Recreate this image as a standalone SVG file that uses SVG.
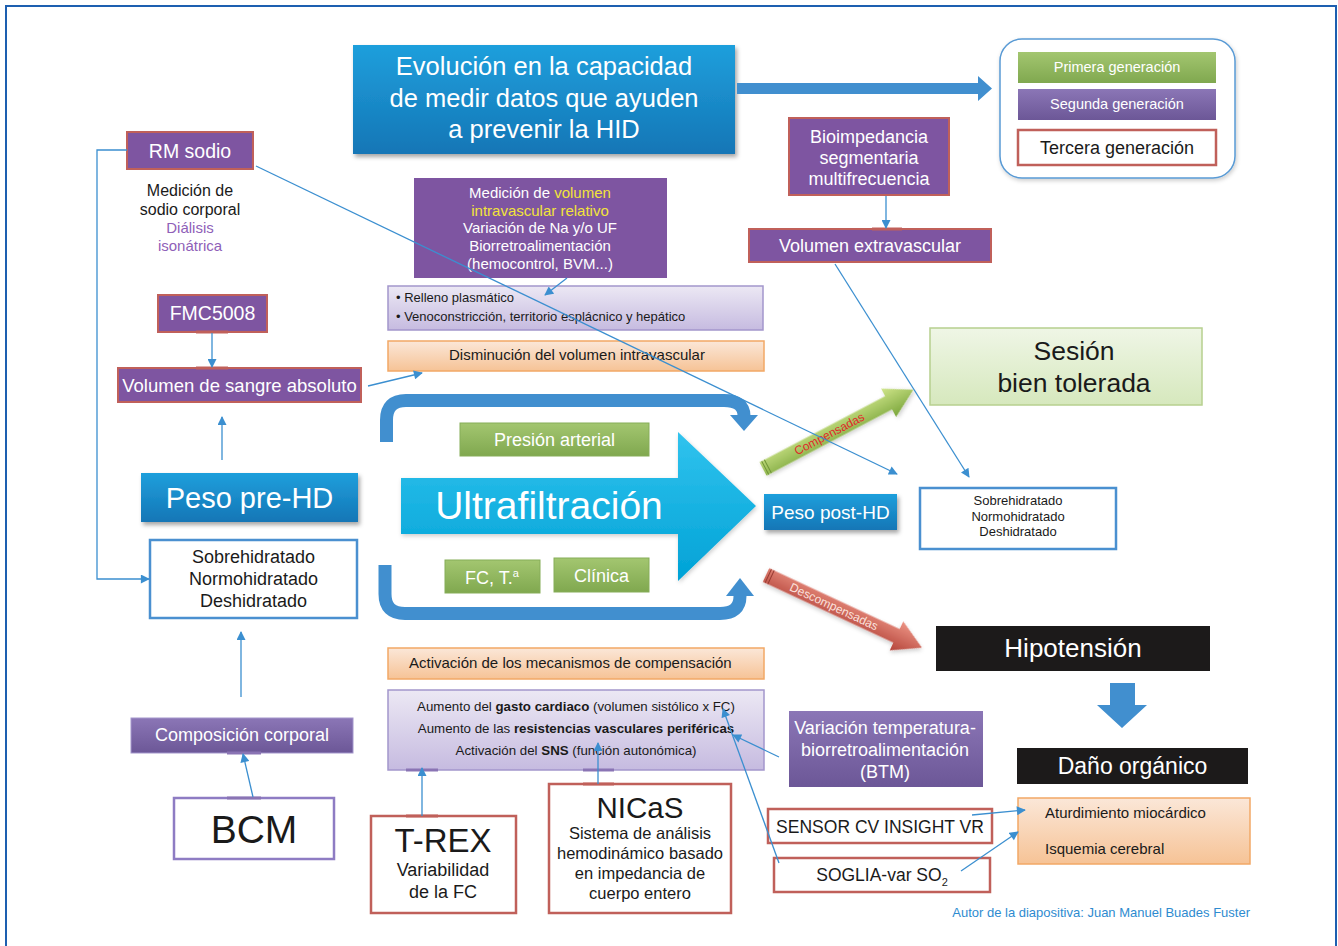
<svg xmlns="http://www.w3.org/2000/svg" width="1338" height="946" viewBox="0 0 1338 946">
<defs>
<style>
text{font-family:"Liberation Sans",Arial,Helvetica,sans-serif}
.w{fill:#ffffff}
.k{fill:#1a1a1a}
.mid{text-anchor:middle}
.pur{fill:#7e55a1;stroke:#c0605a;stroke-width:2}
.blue{fill:url(#gBlue);filter:url(#sh)}
.grn{fill:url(#gGreen);stroke:#86ad58;stroke-width:1}
.org{fill:url(#gOrange);stroke:#f2a866;stroke-width:1.5}
.lav{fill:url(#gLav);stroke:#a396cc;stroke-width:1.5}
.redb{fill:#ffffff;stroke:#c0605a;stroke-width:2.5}
.blub{fill:#ffffff;stroke:#4a90d0;stroke-width:2.5}
.conA{fill:none;stroke:#3b8fd0;stroke-width:1.3;marker-end:url(#ah)}
.loop{fill:none;stroke:#418fcf;stroke-width:13}
.tabR{stroke:#c0605a;stroke-width:3}
.tabP{stroke:#8a74b4;stroke-width:3}
</style>
<linearGradient id="gBlue" x1="0" y1="0" x2="0" y2="1"><stop offset="0" stop-color="#1f9fdc"/><stop offset="1" stop-color="#1476b6"/></linearGradient>
<linearGradient id="gPur" x1="0" y1="0" x2="0" y2="1"><stop offset="0" stop-color="#8b76b6"/><stop offset="1" stop-color="#6c5797"/></linearGradient>
<linearGradient id="gGreen" x1="0" y1="0" x2="0" y2="1"><stop offset="0" stop-color="#a3c670"/><stop offset="1" stop-color="#80a84f"/></linearGradient>
<linearGradient id="gOrange" x1="0" y1="0" x2="0" y2="1"><stop offset="0" stop-color="#fbe7d8"/><stop offset="1" stop-color="#f6c396"/></linearGradient>
<linearGradient id="gLav" x1="0" y1="0" x2="0" y2="1"><stop offset="0" stop-color="#ece8f4"/><stop offset="1" stop-color="#c6bbe0"/></linearGradient>
<linearGradient id="gSes" x1="0" y1="0" x2="0" y2="1"><stop offset="0" stop-color="#eff6e6"/><stop offset="1" stop-color="#d6e8bd"/></linearGradient>
<linearGradient id="gCyan" x1="0" y1="0" x2="0" y2="1"><stop offset="0" stop-color="#31c3ee"/><stop offset="1" stop-color="#00a2d6"/></linearGradient>
<linearGradient id="gComp" x1="0" y1="0" x2="0" y2="1"><stop offset="0" stop-color="#cfe58a"/><stop offset="1" stop-color="#7ba63c"/></linearGradient>
<linearGradient id="gDesc" x1="0" y1="0" x2="0" y2="1"><stop offset="0" stop-color="#ec9384"/><stop offset="1" stop-color="#b4443a"/></linearGradient>
<filter id="sh" x="-10%" y="-10%" width="130%" height="140%"><feDropShadow dx="2" dy="3" stdDeviation="2" flood-color="#000" flood-opacity="0.35"/></filter>
<filter id="shl" x="-10%" y="-10%" width="130%" height="140%"><feDropShadow dx="1" dy="2" stdDeviation="2" flood-color="#000" flood-opacity="0.2"/></filter>
<marker id="ah" viewBox="0 0 10 10" refX="9" refY="5" markerWidth="10" markerHeight="9" orient="auto" markerUnits="userSpaceOnUse"><path d="M0,0 L10,5 L0,10 z" fill="#3b8fd0"/></marker>
</defs>

<rect x="6" y="6" width="1330" height="950" fill="#ffffff" stroke="#1d5fb0" stroke-width="2"/>

<g id="title">
<rect class="blue" x="353" y="45" width="382" height="109"/>
<text class="w mid" x="544" y="75" font-size="25.5">Evolución en la capacidad</text>
<text class="w mid" x="544" y="107" font-size="25.5">de medir datos que ayuden</text>
<text class="w mid" x="544" y="138" font-size="25.5">a prevenir la HID</text>
</g>

<g id="big-arrow">
<polygon points="737,83 978,83 978,76 992,88.5 978,101 978,94 737,94" fill="#418fcf"/>
</g>

<g id="legend">
<rect x="1000" y="39" width="235" height="139" rx="22" fill="#ffffff" stroke="#5a9bd5" stroke-width="1.5" filter="url(#shl)"/>
<rect x="1018" y="52" width="198" height="31" fill="url(#gGreen)"/>
<text class="w mid" x="1117" y="72" font-size="14.5">Primera generación</text>
<rect x="1018" y="89" width="198" height="31" fill="url(#gPur)"/>
<text class="w mid" x="1117" y="109" font-size="14.5">Segunda generación</text>
<rect class="redb" x="1018" y="130" width="198" height="35"/>
<text class="k mid" x="1117" y="154" font-size="18">Tercera generación</text>
</g>

<g id="bioimpedancia">
<rect class="pur" x="789" y="118" width="160" height="77"/>
<text class="w mid" x="869" y="143" font-size="18">Bioimpedancia</text>
<text class="w mid" x="869" y="164" font-size="18">segmentaria</text>
<text class="w mid" x="869" y="185" font-size="18">multifrecuencia</text>
</g>

<g id="vol-extravascular">
<rect class="pur" x="749" y="229" width="242" height="33"/>
<line class="tabR" x1="872" y1="229" x2="902" y2="229"/>
<text class="w mid" x="870" y="252" font-size="18">Volumen extravascular</text>
</g>

<g id="rm-sodio">
<rect class="pur" x="127" y="132" width="126" height="37"/>
<text class="w mid" x="190" y="158" font-size="19.5">RM sodio</text>
<text class="k mid" x="190" y="196" font-size="16">Medición de</text>
<text class="k mid" x="190" y="215" font-size="16">sodio corporal</text>
<text class="mid" x="190" y="233" font-size="15" fill="#8f5fb8">Diálisis</text>
<text class="mid" x="190" y="251" font-size="15" fill="#8f5fb8">isonátrica</text>
</g>

<g id="medicion-vol">
<rect x="414" y="178" width="253" height="100" fill="#7e55a1"/>
<text class="mid" x="540" y="198" font-size="15"><tspan fill="#ffffff">Medición de </tspan><tspan fill="#f2e33a">volumen</tspan></text>
<text class="mid" x="540" y="215.5" font-size="15" fill="#f2e33a">intravascular relativo</text>
<text class="w mid" x="540" y="233" font-size="15">Variación de Na y/o UF</text>
<text class="w mid" x="540" y="251" font-size="15">Biorretroalimentación</text>
<text class="w mid" x="540" y="268.5" font-size="15">(hemocontrol, BVM...)</text>
</g>

<g id="relleno">
<rect class="lav" x="388" y="286" width="375" height="44"/>
<text class="k" x="396" y="302" font-size="13">• Relleno plasmático</text>
<text class="k" x="396" y="321" font-size="13">• Venoconstricción, territorio esplácnico y hepático</text>
</g>

<g id="disminucion">
<rect class="org" x="388" y="341" width="376" height="30"/>
<text class="k mid" x="577" y="360" font-size="15">Disminución del volumen intravascular</text>
</g>

<g id="fmc5008">
<rect class="pur" x="158" y="295" width="109" height="37"/>
<line class="tabR" x1="196" y1="332" x2="228" y2="332"/>
<text class="w mid" x="212.5" y="320" font-size="19.5">FMC5008</text>
</g>

<g id="vol-sangre">
<rect class="pur" x="118" y="368" width="243" height="34"/>
<line class="tabR" x1="196" y1="368" x2="228" y2="368"/>
<text class="w mid" x="239.5" y="392" font-size="18.5">Volumen de sangre absoluto</text>
</g>

<g id="peso-pre">
<rect class="blue" x="141" y="473" width="217" height="49"/>
<text class="w mid" x="249.5" y="508" font-size="29">Peso pre-HD</text>
</g>

<g id="hidratacion-izq">
<rect class="blub" x="150" y="540" width="207" height="78"/>
<text class="k mid" x="253.5" y="563" font-size="18">Sobrehidratado</text>
<text class="k mid" x="253.5" y="585" font-size="18">Normohidratado</text>
<text class="k mid" x="253.5" y="607" font-size="18">Deshidratado</text>
</g>

<g id="loops">
<path class="loop" d="M386.5 442 V420 Q386.5 400.5 406 400.5 H724 Q744 400.5 744 416"/>
<polygon points="730,415 758,415 744,431" fill="#418fcf"/>
<path class="loop" d="M385 565 V594 Q385 613.5 405 613.5 H720 Q740 613.5 740 596"/>
<polygon points="726,596 754,596 740,578" fill="#418fcf"/>
</g>

<g id="ultrafiltracion">
<polygon points="401,478 678,478 678,432 756,506 678,581 678,534 401,534" fill="url(#gCyan)" filter="url(#shl)"/>
<text class="w mid" x="549" y="519" font-size="39">Ultrafiltración</text>
</g>

<g id="presion">
<rect class="grn" x="460" y="423" width="189" height="33"/>
<text class="w mid" x="554.5" y="445.5" font-size="18">Presión arterial</text>
</g>
<g id="fc-ta">
<rect class="grn" x="445" y="560" width="95" height="33"/>
<text class="w mid" x="492" y="584" font-size="18">FC, T.<tspan dy="-7" font-size="11">a</tspan></text>
</g>
<g id="clinica">
<rect class="grn" x="554" y="558" width="95" height="34"/>
<text class="w mid" x="601.5" y="582" font-size="18">Clínica</text>
</g>

<g id="peso-post">
<rect class="blue" x="764" y="494" width="133" height="36"/>
<text class="w mid" x="830.5" y="518.5" font-size="19">Peso post-HD</text>
</g>

<g id="compensadas" transform="translate(763,469) rotate(-27.8)">
<polygon points="0,-7.5 142,-7.5 142,-16 170,0 142,16 142,7.5 0,7.5" fill="url(#gComp)" filter="url(#shl)"/>
<line x1="2.5" y1="-7.5" x2="2.5" y2="7.5" stroke="#6f9436" stroke-width="1"/>
<line x1="5.5" y1="-7.5" x2="5.5" y2="7.5" stroke="#6f9436" stroke-width="1"/>
<text x="75" y="4" font-size="12" fill="#e02a2a" text-anchor="middle">Compensadas</text>
</g>

<g id="descompensadas" transform="translate(766,575) rotate(25)">
<polygon points="0,-7.5 144,-7.5 144,-16 172,0 144,16 144,7.5 0,7.5" fill="url(#gDesc)" filter="url(#shl)"/>
<line x1="2.5" y1="-7.5" x2="2.5" y2="7.5" stroke="#973a32" stroke-width="1"/>
<line x1="5.5" y1="-7.5" x2="5.5" y2="7.5" stroke="#973a32" stroke-width="1"/>
<text x="75" y="4" font-size="12" fill="#fbe0dc" text-anchor="middle">Descompensadas</text>
</g>

<g id="sesion">
<rect x="930" y="328" width="272" height="77" fill="url(#gSes)" stroke="#b7d08f" stroke-width="1.5"/>
<text class="k mid" x="1074" y="360" font-size="26.5">Sesión</text>
<text class="k mid" x="1074" y="392" font-size="26.5">bien tolerada</text>
</g>

<g id="hidratacion-der">
<rect class="blub" x="920" y="488" width="196" height="61"/>
<text class="k mid" x="1018" y="505" font-size="13">Sobrehidratado</text>
<text class="k mid" x="1018" y="521" font-size="13">Normohidratado</text>
<text class="k mid" x="1018" y="536" font-size="13">Deshidratado</text>
</g>

<g id="hipotension">
<rect x="936" y="626" width="274" height="45" fill="#1c1a1a"/>
<text class="w mid" x="1073" y="657" font-size="26">Hipotensión</text>
</g>

<g id="down-arrow">
<polygon points="1110,683 1135,683 1135,705 1147,705 1122,728 1097,705 1110,705" fill="#418fcf"/>
</g>

<g id="dano">
<rect x="1017" y="748" width="231" height="36" fill="#1c1a1a"/>
<text class="w mid" x="1132.5" y="774" font-size="23">Daño orgánico</text>
</g>

<g id="consecuencias">
<rect class="org" x="1018" y="798" width="232" height="66"/>
<text class="k" x="1045" y="818" font-size="15">Aturdimiento miocárdico</text>
<text class="k" x="1045" y="854" font-size="15">Isquemia cerebral</text>
</g>

<g id="activacion">
<rect class="org" x="388" y="648" width="376" height="31"/>
<text class="k" x="409" y="668" font-size="15">Activación de los mecanismos de compensación</text>
</g>

<g id="aumento">
<rect class="lav" x="388" y="690" width="376" height="80"/>
<line class="tabP" x1="406" y1="770" x2="438" y2="770"/>
<line class="tabP" x1="583" y1="770" x2="614" y2="770"/>
<text class="k mid" x="576" y="711" font-size="13.3">Aumento del <tspan font-weight="bold">gasto cardiaco</tspan> (volumen sistólico x FC)</text>
<text class="k mid" x="576" y="733" font-size="13.3">Aumento de las <tspan font-weight="bold">resistencias vasculares periféricas</tspan></text>
<text class="k mid" x="576" y="755" font-size="13.3">Activación del <tspan font-weight="bold">SNS</tspan> (función autonómica)</text>
</g>

<g id="composicion">
<rect x="131" y="718" width="222" height="35" fill="url(#gPur)" stroke="#a396cc" stroke-width="1"/>
<line class="tabP" x1="227" y1="753" x2="261" y2="753"/>
<text class="w mid" x="242" y="741" font-size="18">Composición corporal</text>
</g>

<g id="bcm">
<rect x="174" y="798" width="160" height="61" fill="#ffffff" stroke="#8e7cc3" stroke-width="2.5"/>
<line class="tabP" x1="227" y1="798" x2="261" y2="798"/>
<text class="k mid" x="254" y="843" font-size="39">BCM</text>
</g>

<g id="trex">
<rect class="redb" x="371" y="816" width="145" height="97"/>
<line class="tabR" x1="406" y1="816" x2="438" y2="816"/>
<text class="k mid" x="443" y="852" font-size="33">T-REX</text>
<text class="k mid" x="443" y="876" font-size="18">Variabilidad</text>
<text class="k mid" x="443" y="898" font-size="18">de la FC</text>
</g>

<g id="nicas">
<rect class="redb" x="549" y="784" width="182" height="129"/>
<line class="tabR" x1="583" y1="784" x2="614" y2="784"/>
<text class="k mid" x="640" y="818" font-size="29.5">NICaS</text>
<text class="k mid" x="640" y="839" font-size="16.5">Sistema de análisis</text>
<text class="k mid" x="640" y="859" font-size="16.5">hemodinámico basado</text>
<text class="k mid" x="640" y="879" font-size="16.5">en impedancia de</text>
<text class="k mid" x="640" y="899" font-size="16.5">cuerpo entero</text>
</g>

<g id="variacion-temp">
<rect x="789" y="711" width="194" height="76" fill="url(#gPur)"/>
<text class="w mid" x="885" y="734" font-size="18">Variación temperatura-</text>
<text class="w mid" x="885" y="756" font-size="18">biorretroalimentación</text>
<text class="w mid" x="885" y="778" font-size="18">(BTM)</text>
</g>

<g id="sensor">
<rect class="redb" x="768" y="809" width="224" height="34"/>
<text class="k mid" x="880" y="833" font-size="17.5">SENSOR CV INSIGHT VR</text>
</g>

<g id="soglia">
<rect class="redb" x="774" y="858" width="216" height="34"/>
<text class="k mid" x="882" y="881" font-size="17.5">SOGLIA-var SO<tspan dy="5" font-size="11">2</tspan></text>
</g>

<g id="autor">
<text x="1250" y="917" font-size="13" fill="#2e8bd0" text-anchor="end">Autor de la diapositiva: Juan Manuel Buades Fuster</text>
</g>

<!-- connectors on top -->
<g id="connectors">
<polyline class="conA" points="127,150 97,150 97,579 149,579"/>
<line class="conA" x1="256" y1="166" x2="897" y2="474"/>
<line class="conA" x1="567" y1="278" x2="545" y2="295"/>
<line class="conA" x1="212" y1="333" x2="212" y2="367"/>
<line class="conA" x1="368" y1="386" x2="422" y2="373"/>
<line class="conA" x1="222" y1="460" x2="222" y2="417"/>
<line class="conA" x1="886" y1="196" x2="886" y2="228"/>
<line class="conA" x1="835" y1="264" x2="969" y2="477"/>
<line class="conA" x1="241" y1="697" x2="241" y2="632"/>
<line class="conA" x1="253" y1="797" x2="243" y2="754"/>
<line class="conA" x1="422" y1="816" x2="422" y2="768"/>
<line class="conA" x1="598" y1="784" x2="598" y2="743"/>
<line class="conA" x1="779" y1="757" x2="733" y2="735"/>
<line class="conA" x1="779" y1="863" x2="723" y2="709"/>
<line class="conA" x1="972" y1="815" x2="1025" y2="810"/>
<line class="conA" x1="961" y1="871" x2="1018" y2="832"/>
</g>
</svg>
